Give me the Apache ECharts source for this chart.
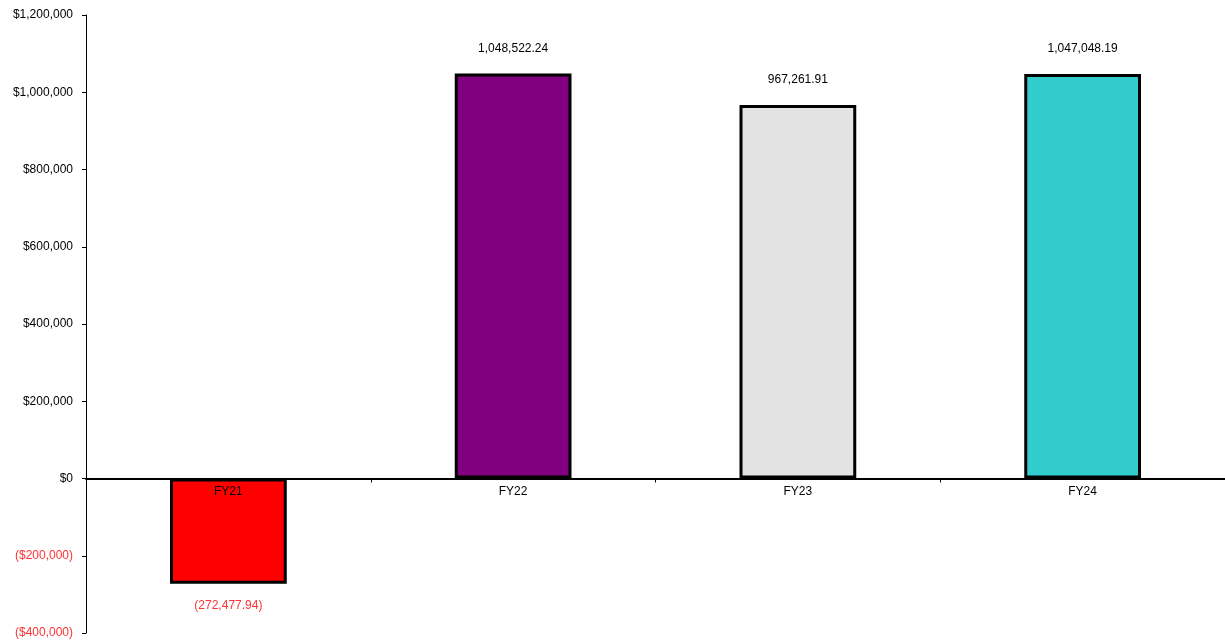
<!DOCTYPE html>
<html><head><meta charset="utf-8">
<script src="https://cdn.jsdelivr.net/npm/echarts@6/dist/echarts.min.js"></script>
<style>html,body{margin:0;padding:0;background:#fff}#c{width:1225px;height:643px}</style>
</head><body><div id="c"></div>
<script>
const categories = ['FY21', 'FY22', 'FY23', 'FY24'];
const values = [-272477.94, 1048522.24, 967261.91, 1047048.19];
const barColors = ['#ff0000', '#800080', '#e3e3e3', '#33cccc'];
const yTicks = { min: -400000, max: 1200000, interval: 200000 };

function fmtMoney(v) {
  const s = '$' + Math.abs(v).toLocaleString('en-US');
  return v < 0 ? '(' + s + ')' : s;
}
function fmtVal(v) {
  const s = Math.abs(v).toLocaleString('en-US', { minimumFractionDigits: 2, maximumFractionDigits: 2 });
  return v < 0 ? '(' + s + ')' : s;
}

const chart = echarts.init(document.getElementById('c'));
chart.setOption({
  animation: false,
  textStyle: { fontFamily: 'Liberation Sans, Arial, sans-serif' },
  grid: { left: 86, right: 0, top: 15, bottom: 10, containLabel: false, outerBoundsMode: 'none' },
  xAxis: {
    type: 'category', data: categories, z: 5,
    axisLine: { onZero: true, lineStyle: { color: '#000', width: 2 } },
    axisTick: { show: true, length: 4, lineStyle: { color: '#000' } },
    axisLabel: { show: false },
    splitLine: { show: false }
  },
  yAxis: {
    type: 'value', min: yTicks.min, max: yTicks.max, interval: yTicks.interval,
    axisLine: { show: true, lineStyle: { color: '#000', width: 1 } },
    axisTick: { show: true, length: 4, lineStyle: { color: '#000' } },
    splitLine: { show: false },
    axisLabel: {
      fontSize: 12, margin: 13,
      formatter: v => v < 0 ? '{n|' + fmtMoney(v) + '}' : fmtMoney(v),
      color: '#000',
      rich: { n: { color: '#ff3333', fontSize: 12 } }
    }
  },
  series: [{
    type: 'bar', barWidth: '41%', z: 2,
    data: values.map((v, i) => ({
      value: v,
      itemStyle: { color: barColors[i], borderColor: '#000', borderWidth: 3 },
      label: {
        show: true,
        position: v < 0 ? 'bottom' : 'top',
        distance: v < 0 ? 16 : 19,
        color: v < 0 ? '#ff3333' : '#000',
        fontSize: 12,
        formatter: p => fmtVal(p.value)
      }
    }))
  }, {
    type: 'bar', barWidth: '41%', barGap: '-100%', z: 6, silent: true,
    data: categories.map(() => 0),
    itemStyle: { color: 'transparent', borderWidth: 0 },
    label: {
      show: true, position: 'bottom', distance: 7, color: '#000', fontSize: 12,
      formatter: p => p.name
    }
  }]
});
</script></body></html>
